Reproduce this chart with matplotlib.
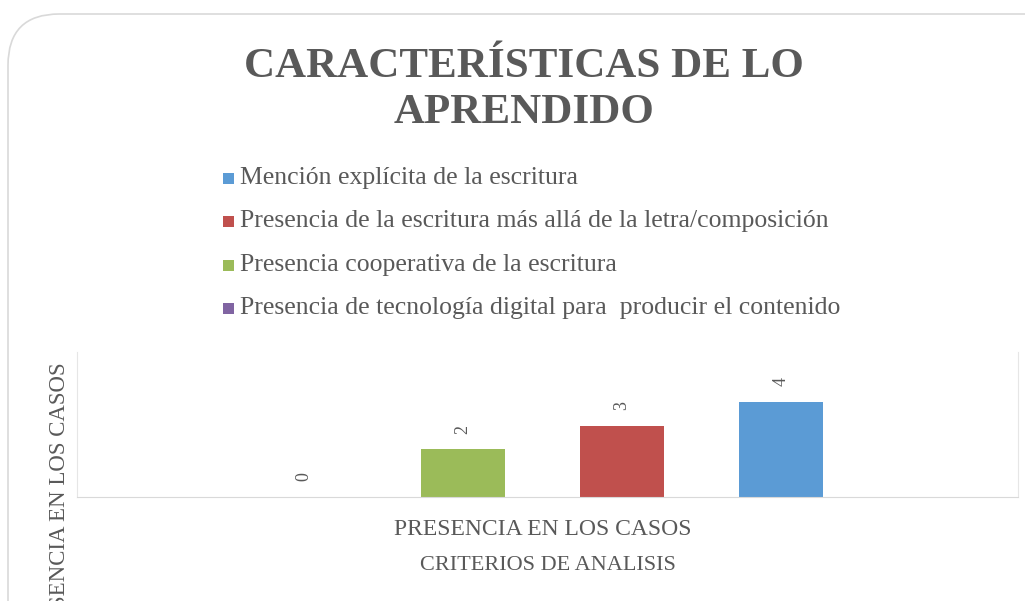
import matplotlib.pyplot as plt
from matplotlib.patches import FancyBboxPatch, Rectangle

# data
series = ["Mención explícita de la escritura",
          "Presencia de la escritura más allá de la letra/composición",
          "Presencia cooperativa de la escritura",
          "Presencia de tecnología digital para  producir el contenido"]
values = [4, 3, 2, 0]
colors = ["#5B9BD5", "#C0504D", "#9BBB59", "#8064A2"]
category = "PRESENCIA EN LOS CASOS"
title = "CARACTERÍSTICAS DE LO\nAPRENDIDO"
xlabel = "CRITERIOS DE ANALISIS"
ylabel = "PRESENCIA EN LOS CASOS"

txt = "#595959"
plt.rcParams["font.family"] = ["Liberation Serif", "DejaVu Serif"]

fig = plt.figure(figsize=(10.25, 6.01), dpi=100)

# rounded chart frame
frame = FancyBboxPatch((8 / 1025, -0.1), 1.2, 1.1 - 14 / 601,
                       boxstyle="round,pad=0,rounding_size=0.05",
                       transform=fig.transFigure, fc="white", ec="#d9d9d9", lw=1.2,
                       mutation_aspect=1025 / 601, zorder=-10)
fig.patches.append(frame)

fig.text(0.511, 1 - 90 / 601, title, ha="center", va="center", fontsize=31,
         fontweight="bold", color=txt, linespacing=1.25)

# legend (drawn manually to match layout)
leg_y = [178, 221, 265, 308]
for name, c, y in zip(series, colors, leg_y):
    fig.patches.append(Rectangle((223 / 1025, 1 - (y + 6) / 601), 11 / 1025, 11 / 601,
                                 transform=fig.transFigure, fc=c, ec="none"))
    fig.text(240 / 1025, 1 - y / 601, name, ha="left", va="center",
             fontsize=18.5, color=txt)

ax = fig.add_axes([77 / 1025, 1 - 497 / 601, 941 / 1025, 145 / 601])
ax.set_ylim(0, 6.1)
ax.set_xlim(-465.5 / 941, 475.5 / 941)
ax.patch.set_alpha(0)

w = 84 / 941
step = 159 / 941
n = len(values)
for i, (v, c) in enumerate(zip(values[::-1], colors[::-1])):
    x = (i - (n - 1) / 2) * step
    ax.bar(x, v, width=w, color=c)
    ax.text(x, v + 0.85, str(v), rotation=90, ha="center", va="center",
            fontsize=13, color=txt)

ax.spines["top"].set_visible(False)
for s in ["left", "right"]:
    ax.spines[s].set_color("#e6e6e6")
ax.spines["bottom"].set_color("#d9d9d9")
ax.set_yticks([])
ax.set_xticks([0])
ax.set_xticklabels([category], fontsize=17, color=txt)
ax.tick_params(axis="x", length=0, pad=16)
ax.set_xlabel(xlabel, fontsize=16, color=txt, labelpad=11)

fig.text(60 / 1025, 1 - 362 / 601, ylabel, rotation=90, ha="center", va="top",
         fontsize=16.5, color=txt)

fig.savefig("out.png", dpi=100)
